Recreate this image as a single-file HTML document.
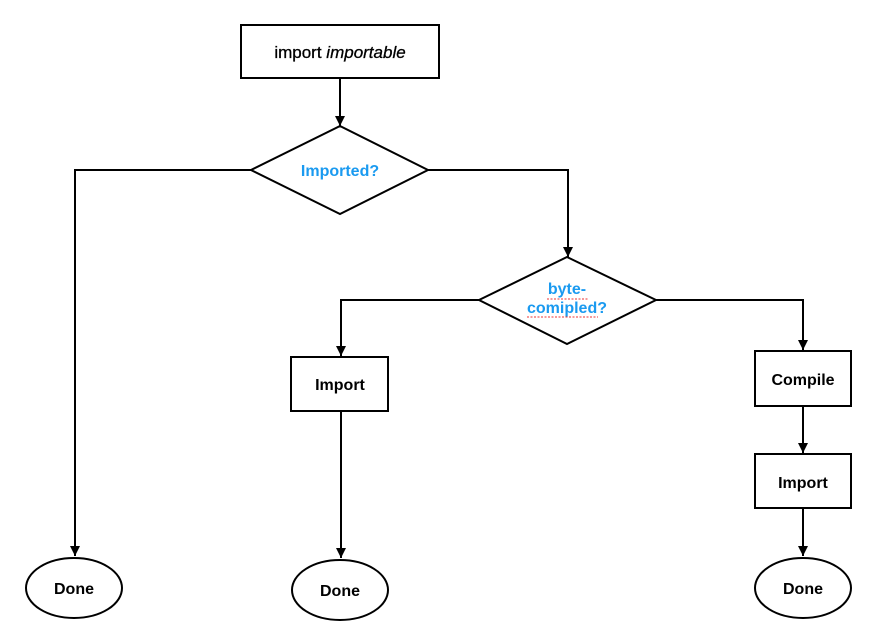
<!DOCTYPE html>
<html><head><style>body{margin:0;background:#fff}svg{display:block}</style></head><body>
<svg width="873" height="644" viewBox="0 0 873 644" xmlns="http://www.w3.org/2000/svg" font-family="Liberation Sans, sans-serif" font-size="16">
<defs><marker id="a" markerWidth="10" markerHeight="10" refX="10" refY="5" orient="auto" markerUnits="userSpaceOnUse"><path d="M0,0 L10,5 L0,10 Z" fill="#000"/></marker></defs>
<g stroke="#000" stroke-width="2" fill="none">
<rect x="241" y="25" width="198" height="53" fill="#fff"/>
<line x1="340" y1="78" x2="340" y2="126" marker-end="url(#a)"/>
<polygon points="340,126 428,170 340,214 251,170" fill="#fff"/>
<polyline points="251,170 75,170 75,556" marker-end="url(#a)"/>
<polyline points="428,170 568,170 568,257" marker-end="url(#a)"/>
<polygon points="567,257 656,300 567,344 479,300" fill="#fff"/>
<polyline points="479,300 341,300 341,356" marker-end="url(#a)"/>
<polyline points="656,300 803,300 803,350" marker-end="url(#a)"/>
<rect x="291" y="357" width="97" height="54" fill="#fff"/>
<rect x="755" y="351" width="96" height="55" fill="#fff"/>
<line x1="803" y1="406" x2="803" y2="453" marker-end="url(#a)"/>
<rect x="755" y="454" width="96" height="54" fill="#fff"/>
<line x1="803" y1="508" x2="803" y2="556" marker-end="url(#a)"/>
<line x1="341" y1="411" x2="341" y2="558" marker-end="url(#a)"/>
<ellipse cx="74" cy="588" rx="48" ry="30" fill="#fff"/>
<ellipse cx="340" cy="590" rx="48" ry="30" fill="#fff"/>
<ellipse cx="803" cy="588" rx="48" ry="30" fill="#fff"/>
</g>
<g text-anchor="middle" fill="#000" font-weight="bold">
<text x="340" y="58" font-size="17" font-weight="normal" stroke="#000" stroke-width="0.3">import <tspan font-style="italic">importable</tspan></text>
<text x="340" y="176" fill="#1a9af0">Imported?</text>
<text x="567" y="294" fill="#1a9af0">byte-</text>
<text x="567" y="313" fill="#1a9af0">comipled?</text>
<text x="340" y="390">Import</text>
<text x="803" y="385">Compile</text>
<text x="803" y="488">Import</text>
<text x="74" y="594">Done</text>
<text x="340" y="596">Done</text>
<text x="803" y="594">Done</text>
</g>
<g stroke="#e33" stroke-width="1" stroke-dasharray="2,1.5" fill="none">
<line x1="547" y1="299" x2="588" y2="299"/>
<line x1="527" y1="317" x2="598" y2="317"/>
</g>
</svg>
</body></html>
